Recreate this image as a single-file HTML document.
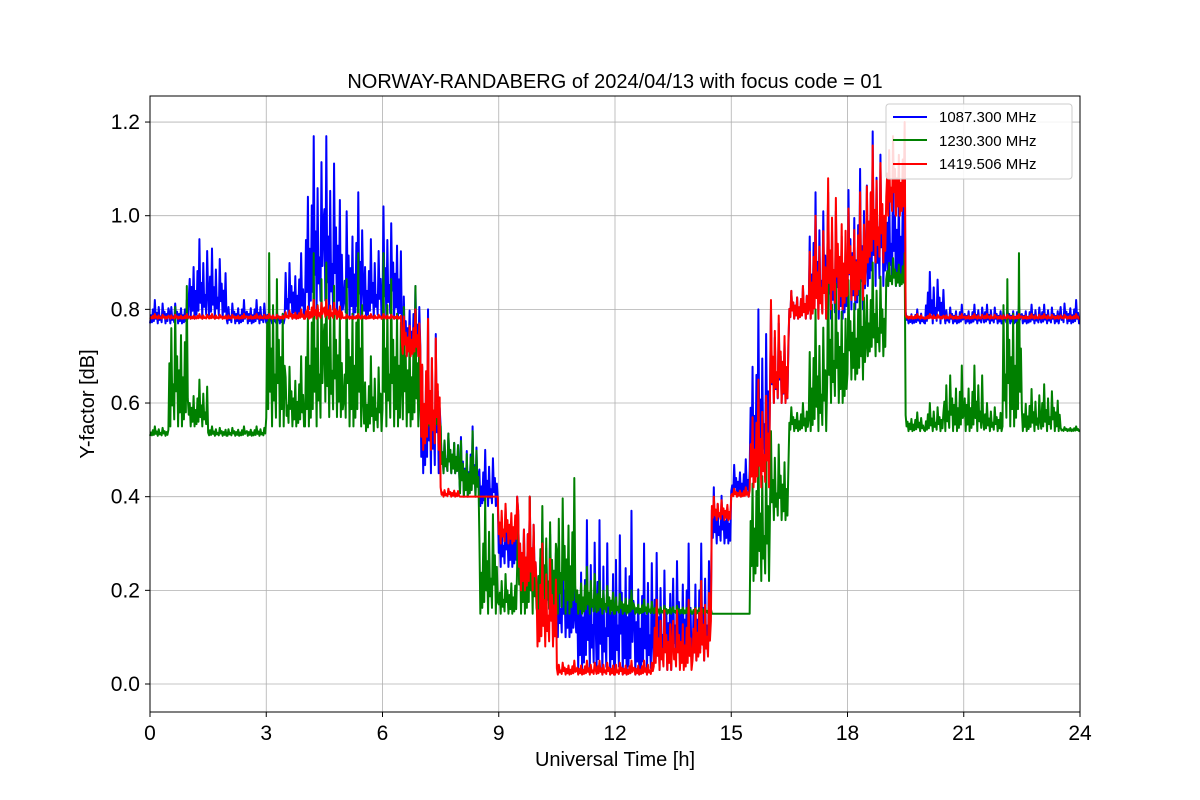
<!DOCTYPE html>
<html><head><meta charset="utf-8">
<style>
body{margin:0;background:#fff;}
svg{display:block;font-family:"Liberation Sans","DejaVu Sans",sans-serif;}
</style></head>
<body>
<svg id="chart" width="1200" height="800" viewBox="0 0 1200 800">
<rect x="0" y="0" width="1200" height="800" fill="#fff"/>
<text x="615" y="88" font-size="20" text-anchor="middle">NORWAY-RANDABERG of 2024/04/13 with focus code = 01</text>
<g id="grid"></g>
<g id="series"></g>
<rect x="150" y="96" width="930" height="616" fill="none" stroke="#000" stroke-width="1"/>
<g id="ticks"></g>
<text x="615" y="766" font-size="20" text-anchor="middle">Universal Time [h]</text>
<text transform="translate(94,404) rotate(-90)" font-size="20" text-anchor="middle">Y-factor [dB]</text>
<g>
<rect x="886" y="104" width="186" height="75" rx="3" fill="#fff" fill-opacity="0.85" stroke="#ccc"/>
<line x1="893" y1="117" x2="927" y2="117" stroke="blue" stroke-width="2"/>
<text x="939" y="122" font-size="15">1087.300 MHz</text>
<line x1="893" y1="140" x2="927" y2="140" stroke="green" stroke-width="2"/>
<text x="939" y="146" font-size="15">1230.300 MHz</text>
<line x1="893" y1="164" x2="927" y2="164" stroke="red" stroke-width="2"/>
<text x="939" y="169" font-size="15">1419.506 MHz</text>
</g>
</svg>
<script>
const xTicks=[0,3,6,9,12,15,18,21,24];
const yTicks=[0.0,0.2,0.4,0.6,0.8,1.0,1.2];
const binHours=0.5;
const blueLo=[0.77,0.77,0.78,0.78,0.77,0.77,0.77,0.78,0.80,0.78,0.78,0.78,0.78,0.70,0.45,0.45,0.40,0.38,0.25,0.20,0.15,0.10,0.03,0.02,0.02,0.02,0.03,0.05,0.05,0.30,0.40,0.45,0.60,0.78,0.78,0.78,0.80,0.85,0.85,0.77,0.77,0.77,0.77,0.77,0.77,0.77,0.77,0.77];
const blueHi=[0.82,0.82,0.95,0.93,0.82,0.82,0.80,0.92,1.17,1.17,1.05,0.95,1.02,0.85,0.80,0.55,0.55,0.50,0.40,0.40,0.35,0.30,0.35,0.35,0.37,0.30,0.28,0.30,0.30,0.42,0.48,0.80,0.80,0.85,1.05,1.05,1.10,1.18,1.15,0.80,0.88,0.81,0.81,0.81,0.81,0.81,0.81,0.82];
const greenLo=[0.53,0.55,0.55,0.53,0.53,0.53,0.55,0.55,0.55,0.57,0.55,0.54,0.55,0.55,0.54,0.45,0.40,0.15,0.15,0.15,0.15,0.15,0.15,0.15,0.15,0.15,0.15,0.15,0.15,0.15,0.15,0.22,0.35,0.54,0.54,0.60,0.65,0.70,0.85,0.54,0.54,0.54,0.54,0.54,0.55,0.54,0.54,0.54];
const greenHi=[0.55,0.85,0.65,0.55,0.55,0.55,0.92,0.70,0.92,0.90,0.92,0.70,0.92,0.85,0.60,0.55,0.54,0.40,0.25,0.40,0.38,0.44,0.25,0.22,0.20,0.18,0.17,0.17,0.17,0.15,0.15,0.54,0.54,0.60,0.80,0.90,0.90,0.90,0.92,0.58,0.60,0.68,0.68,0.60,0.92,0.63,0.64,0.55];
const redLo=[0.78,0.78,0.78,0.78,0.78,0.78,0.78,0.78,0.78,0.78,0.78,0.78,0.78,0.70,0.50,0.40,0.40,0.40,0.30,0.20,0.08,0.02,0.02,0.02,0.02,0.02,0.03,0.03,0.05,0.35,0.40,0.42,0.60,0.78,0.78,0.80,0.82,0.90,1.00,0.78,0.78,0.78,0.78,0.78,0.78,0.78,0.78,0.78];
const redHi=[0.79,0.79,0.79,0.79,0.79,0.79,0.79,0.80,0.82,0.82,0.79,0.79,0.79,0.80,0.78,0.42,0.40,0.40,0.40,0.40,0.30,0.05,0.05,0.05,0.05,0.05,0.18,0.18,0.22,0.40,0.42,0.65,0.82,0.85,1.00,1.08,1.05,1.15,1.20,0.79,0.79,0.79,0.79,0.79,0.79,0.79,0.79,0.79];
const NS="http://www.w3.org/2000/svg";
const X0=150,X1=1080,Y0=684,PXPERUNIT=468.3;
const SHAPE=[0,0.35,0.05,0.6,0.1,1,0.2,0.45,0,0.7,0.15,0.3,0.05,0.85,0.25,0.5,0,0.4,0.1,0.65];
function xs(h){return X0+(h/24)*(X1-X0);}
function ys(v){return Y0-v*PXPERUNIT;}
const grid=document.getElementById('grid'),ticks=document.getElementById('ticks'),ser=document.getElementById('series');
xTicks.forEach(t=>{
 const l=document.createElementNS(NS,'line');
 
 
 l.setAttribute('x1',xs(t));l.setAttribute('x2',xs(t));l.setAttribute('y1',96);l.setAttribute('y2',712);
 l.setAttribute('stroke','#b0b0b0');l.setAttribute('stroke-width','0.8');grid.appendChild(l);
 const tk=document.createElementNS(NS,'line');
 
 
 tk.setAttribute('x1',xs(t));tk.setAttribute('x2',xs(t));tk.setAttribute('y1',712);tk.setAttribute('y2',717);tk.setAttribute('stroke','#000');ticks.appendChild(tk);
 const tx=document.createElementNS(NS,'text');
 
 
 tx.setAttribute('x',xs(t));tx.setAttribute('y',740);tx.setAttribute('font-size','21');tx.setAttribute('text-anchor','middle');tx.textContent=t;ticks.appendChild(tx);
});
yTicks.forEach(t=>{
 const l=document.createElementNS(NS,'line');
 
 
 l.setAttribute('x1',150);l.setAttribute('x2',1080);l.setAttribute('y1',ys(t));l.setAttribute('y2',ys(t));
 l.setAttribute('stroke','#b0b0b0');l.setAttribute('stroke-width','0.8');grid.appendChild(l);
 const tk=document.createElementNS(NS,'line');
 
 
 tk.setAttribute('x1',145);tk.setAttribute('x2',150);tk.setAttribute('y1',ys(t));tk.setAttribute('y2',ys(t));tk.setAttribute('stroke','#000');ticks.appendChild(tk);
 const tx=document.createElementNS(NS,'text');
 
 
 tx.setAttribute('x',140);tx.setAttribute('y',ys(t)+7);tx.setAttribute('font-size','21');tx.setAttribute('text-anchor','end');tx.textContent=t.toFixed(1);ticks.appendChild(tx);
});
function drawSeries(lo,hi,color,name){
 const sub=SHAPE.length;let d='';
 for(let i=0;i<lo.length;i++){
  for(let k=0;k<sub;k++){
   const h=(i+k/sub)*binHours;
   const v=lo[i]+(hi[i]-lo[i])*SHAPE[(k+i*7)%sub];
   d+=(d?'L':'M')+xs(h).toFixed(2)+','+ys(v).toFixed(2);
  }
 }
 d+='L'+xs(lo.length*binHours).toFixed(2)+','+ys(lo[lo.length-1]).toFixed(2);
 const p=document.createElementNS(NS,'path');
 
 
 p.setAttribute('d',d);p.setAttribute('fill','none');p.setAttribute('stroke',color);p.setAttribute('stroke-width','2');p.setAttribute('stroke-linejoin','round');
 ser.appendChild(p);
}
drawSeries(blueLo,blueHi,'blue','series-1087mhz');
drawSeries(greenLo,greenHi,'green','series-1230mhz');
drawSeries(redLo,redHi,'red','series-1419mhz');
</script>
</body></html>
